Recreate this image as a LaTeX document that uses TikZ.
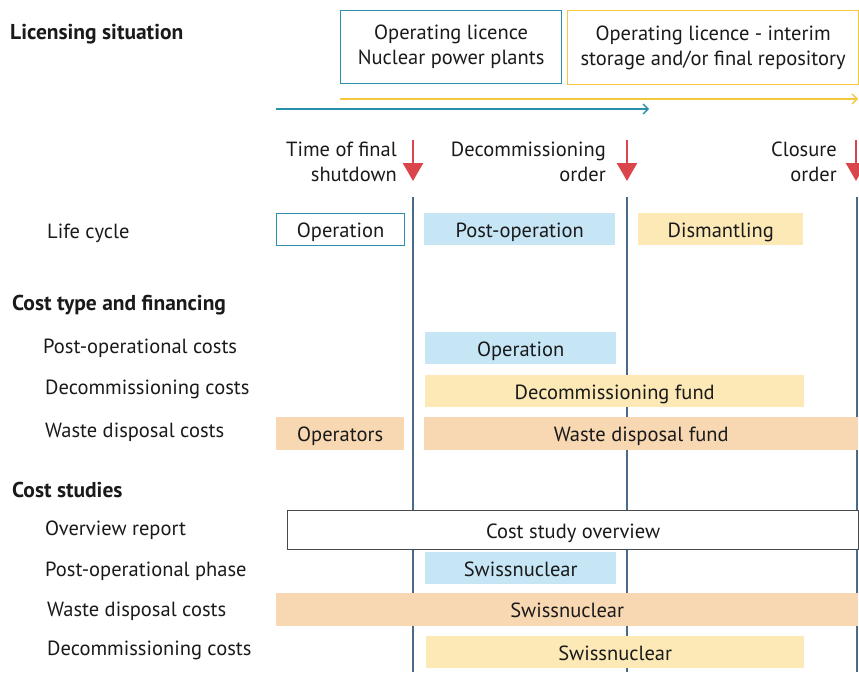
\documentclass[tikz,border=0pt]{standalone}
\usepackage{fontspec}
\setmainfont{PT Sans}
\usetikzlibrary{arrows.meta,positioning}
\definecolor{licteal}{HTML}{2A8FA8}
\definecolor{licyellow}{HTML}{F5C842}
\definecolor{eventred}{HTML}{D9454A}
\definecolor{phaseline}{HTML}{4A6A8A}
\definecolor{fillblue}{HTML}{C6E5F5}
\definecolor{fillyellow}{HTML}{FCE9B6}
\definecolor{fillorange}{HTML}{F8D8B2}
\definecolor{inkblack}{HTML}{1A1A1A}
\begin{document}
\begin{tikzpicture}[x=1pt, y=-1pt, font=\fontsize{20.5}{25}\selectfont, text=inkblack,
	box/.style = {anchor=north west, minimum height=32pt, inner sep=0pt, text height=19pt, text depth=3pt},
	licbox/.style = {anchor=north west, inner sep=0pt, line width=1.2pt, align=center},
	opbox/.style = {box, draw=licteal, fill=white, line width=1.2pt},
	postbox/.style = {box, fill=fillblue},
	dismbox/.style = {box, fill=fillyellow},
	wastebox/.style = {box, fill=fillorange},
	rowtext/.style = {anchor=west, inner sep=0pt},
	heading/.style = {anchor=west, inner sep=0pt, font=\fontsize{21.5}{24}\selectfont\bfseries},
	evtext/.style = {anchor=east, align=right, inner sep=0pt},
	event/.style = {-{Triangle[width=20pt,length=18pt]}, eventred, line width=2.6pt},
	phase/.style = {phaseline, line width=1.4pt}]
	\useasboundingbox (0,0) rectangle (859,672);

	%Licensing situation
	\node[heading] (lic) at (10,34) {Licensing situation};
	\node[licbox, draw=licteal, minimum width=221pt, minimum height=73pt] (licnpp) at (340,10) {Operating licence\\Nuclear power plants};
	\node[licbox, draw=licyellow, minimum width=291pt, minimum height=74pt] (licrep) at (567,10) {Operating licence - interim\\storage and/or final repository};
	\coordinate (ya) at (340,99);
	\coordinate (yb) at (858,99);
	\coordinate (ta) at (276,109);
	\coordinate (tb) at (649,109);
	\path [-{Straight Barb[length=5pt,width=10pt]}, licyellow, line width=1.4pt] (ya) edge (yb); %Repository licence
	\path [-{Straight Barb[length=5pt,width=10pt]}, licteal, line width=1.4pt] (ta) edge (tb); 	%Plant licence

	%Phase boundaries
	\coordinate (t1) at (413,197);
	\coordinate (b1) at (413,672);
	\coordinate (t2) at (627,197);
	\coordinate (b2) at (627,672);
	\coordinate (t3) at (857,197);
	\coordinate (b3) at (857,672);
	\draw[phase] (t1) -- (b1);
	\draw[phase] (t2) -- (b2);
	\draw[phase] (t3) -- (b3);

	%Events
	\coordinate (s1) at (413,140);
	\coordinate (e1) at (413,181);
	\coordinate (s2) at (627,140);
	\coordinate (e2) at (627,181);
	\coordinate (s3) at (856,140);
	\coordinate (e3) at (856,181);
	\path [event] (s1) edge (e1); 	%Final shutdown
	\path [event] (s2) edge (e2); 	%Decommissioning order
	\path [event] (s3) edge (e3); 	%Closure order
	\node[evtext] (shutdown) at (397,162) {Time of final\\shutdown};
	\node[evtext] (decorder) at (606,162) {Decommissioning\\order};
	\node[evtext] (closure) at (837,162) {Closure\\order};

	%Life cycle
	\node[rowtext] (life) at (47,233) {Life cycle};
	\node[opbox, minimum width=128pt] (lcop) at (276,213) {Operation};
	\node[postbox, minimum width=191pt] (lcpost) at (424,213) {Post-operation};
	\node[dismbox, minimum width=165pt] (lcdism) at (638,213) {Dismantling};

	%Cost type and financing
	\node[heading] (costtype) at (12,305) {Cost type and financing};
	\node[rowtext] (pocost) at (43,348) {Post-operational costs};
	\node[rowtext] (decost) at (45,389) {Decommissioning costs};
	\node[rowtext] (wdcost) at (45,432) {Waste disposal costs};
	\node[postbox, minimum width=191pt] (finop) at (425,332) {Operation};
	\node[dismbox, minimum width=379pt] (finde) at (425,375) {Decommissioning fund};
	\node[wastebox, minimum width=128pt, minimum height=33pt] (finopr) at (276,417) {Operators};
	\node[wastebox, minimum width=434pt, minimum height=33pt] (finwd) at (424,417) {Waste disposal fund};

	%Cost studies
	\node[heading] (studies) at (12,490) {Cost studies};
	\node[rowtext] (ovrep) at (45,530) {Overview report};
	\node[rowtext] (pophase) at (45,571) {Post-operational phase};
	\node[rowtext] (wdstudy) at (47,611) {Waste disposal costs};
	\node[rowtext] (destudy) at (47,650) {Decommissioning costs};
	\node[box, draw=inkblack!80, fill=white, line width=1.3pt, minimum width=571pt, minimum height=39pt] (csov) at (287,510) {Cost study overview};
	\node[postbox, minimum width=191pt] (snpo) at (425,552) {Swissnuclear};
	\node[wastebox, minimum width=582pt, minimum height=33pt] (snwd) at (276,593) {Swissnuclear};
	\node[dismbox, minimum width=378pt] (snde) at (426,636) {Swissnuclear};
\end{tikzpicture}
\end{document}
